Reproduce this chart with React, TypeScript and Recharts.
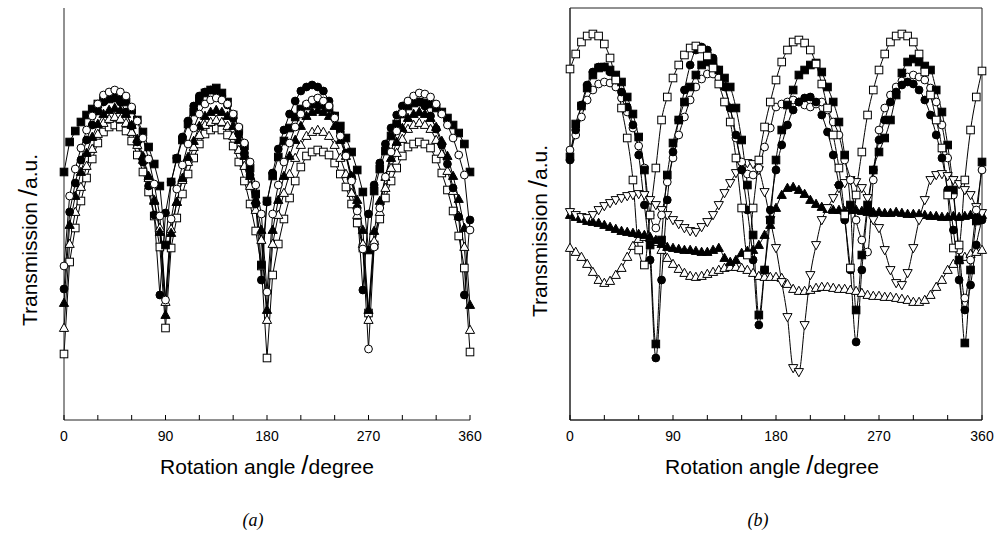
import React from 'react';
import { LineChart, Line, XAxis, YAxis, ReferenceArea } from 'recharts';

// Rotation angle (degree)
const DEG = [0,5,10,15,20,25,30,35,40,45,50,55,60,65,70,75,80,85,90,95,100,105,110,115,120,125,130,135,140,145,150,155,160,165,170,175,180,185,190,195,200,205,210,215,220,225,230,235,240,245,250,255,260,265,270,275,280,285,290,295,300,305,310,315,320,325,330,335,340,345,350,355,360];
const X_TICKS = [0,30,60,90,120,150,180,210,240,270,300,330,360];

// Panel (a) transmission (a.u.)
const A_OPEN_CIRCLE = [154,224,251,272,290,304,316,325,328,330,328,324,313,299,282,261,236,204,120,201,231,255,276,292,306,316,320,322,320,316,306,293,277,258,235,206,128,206,235,258,277,293,306,316,320,322,319,314,302,284,264,239,209,171,71,173,212,243,268,289,307,319,324,327,326,323,316,306,295,282,265,245,190];
const A_FILLED_CIRCLE = [131,208,237,260,280,295,309,318,322,322,318,308,294,278,258,234,205,125,207,238,262,283,299,314,324,328,330,328,324,315,302,286,267,245,216,140,218,247,271,290,306,319,329,333,335,333,329,319,304,288,267,243,212,130,206,235,257,276,292,305,314,318,320,318,314,304,291,275,256,232,203,125,200];
const A_FILLED_SQUARE = [248,278,289,298,305,311,316,320,321,322,321,318,310,300,288,273,256,234,175,238,261,280,296,308,319,327,330,332,327,318,305,291,274,252,226,155,219,244,263,279,292,303,311,314,316,316,315,312,304,294,282,268,250,228,170,229,251,269,284,296,306,314,317,318,317,316,312,308,302,295,287,276,248];
const A_FILLED_TRI = [117,195,224,248,267,283,296,306,310,312,310,306,295,281,264,244,219,188,105,187,218,242,263,279,294,304,308,310,308,304,294,280,264,244,220,190,110,190,220,244,264,280,294,304,308,310,308,304,294,280,264,244,220,190,110,189,219,243,262,278,292,302,306,308,306,302,293,279,264,244,221,192,115];
const A_OPEN_TRI = [92,176,208,233,254,271,286,297,301,303,301,297,288,275,260,242,220,192,118,191,218,240,258,273,285,295,298,300,298,294,284,270,254,234,210,180,100,176,205,227,246,262,275,284,288,290,288,284,275,262,246,227,205,176,100,179,208,232,252,267,281,291,295,297,295,291,280,266,249,229,204,173,90];
const A_OPEN_SQUARE = [66,158,192,219,242,261,277,288,293,295,293,289,279,265,248,228,204,173,92,172,202,226,246,262,276,286,290,292,290,285,274,258,239,216,189,154,62,145,176,201,222,239,253,264,268,270,268,265,257,246,233,216,197,172,107,175,201,222,239,252,264,273,276,278,276,272,261,247,230,209,184,152,68];

// Panel (b) transmission (a.u.)
const B_OPEN_SQUARE = [351,366,378,384,386,384,376,362,340,312,282,240,170,155,205,252,300,323,342,355,365,372,374,371,364,352,336,318,298,262,212,165,212,260,293,318,340,358,370,378,380,377,370,356,336,312,285,252,205,152,225,268,305,330,350,366,378,384,386,384,378,366,348,325,300,272,225,172,175,240,290,323,349];
const B_FILLED_SQUARE = [263,296,314,332,345,352,353,350,345,338,323,306,283,250,175,76,180,245,277,300,318,333,345,355,358,357,350,342,333,312,280,235,185,105,150,200,260,290,315,330,345,350,355,357,348,333,318,298,265,215,110,165,215,250,268,282,300,325,347,358,361,358,354,350,330,308,275,230,160,77,150,199,258];
const B_FILLED_CIRCLE = [260,290,315,335,348,353,353,348,340,328,313,295,265,215,160,62,140,220,268,300,330,355,370,373,370,362,350,333,312,285,250,210,160,95,150,210,250,275,295,310,318,322,323,318,305,288,265,235,200,150,78,150,210,250,280,300,318,328,335,338,336,330,320,305,285,262,230,190,140,110,135,175,200];
const B_OPEN_CIRCLE = [270,285,303,320,330,336,338,337,333,322,308,292,274,252,205,192,205,238,262,285,303,320,333,341,346,346,342,334,312,282,258,246,245,252,273,292,313,316,318,320,318,315,313,316,318,310,298,285,260,240,200,180,168,240,290,312,325,333,339,343,345,343,340,332,318,295,262,225,170,122,160,210,250];
const B_DOWN_TRI = [208,205,203,202,205,210,214,217,220,222,224,225,226,225,220,215,210,205,200,196,192,189,188,193,198,205,215,227,237,247,255,257,256,250,228,200,172,138,103,52,48,95,145,175,200,212,222,232,237,240,238,232,222,200,192,170,150,137,135,147,172,200,220,240,245,246,244,240,236,230,225,213,207];
const B_FILLED_TRI = [205,203,201,199,198,197,195,193,191,189,188,187,186,185,183,180,176,173,172,171,170,170,169,168,168,170,172,162,158,160,167,169,170,175,185,195,212,225,232,233,230,226,220,216,213,211,210,210,209,210,210,209,208,208,208,207,207,208,207,206,206,206,205,204,204,203,203,204,203,204,205,205,205];
const B_OPEN_TRI = [172,168,163,156,148,140,137,139,145,152,163,174,181,183,182,178,170,162,156,151,147,144,143,144,146,148,150,152,153,153,152,150,147,144,143,143,143,142,136,131,129,129,130,132,133,133,132,131,131,130,129,127,125,124,124,123,123,122,121,120,118,118,120,125,133,140,150,156,160,163,166,168,170];

type Shape = 'square' | 'circle' | 'up' | 'down';

function makeDot(shape: Shape, filled: boolean) {
  return (props: any) => {
    const { cx, cy, index } = props;
    const k = `dot-${index}`;
    if (cx == null || cy == null || isNaN(cx) || isNaN(cy)) return <g key={k} />;
    const common = { fill: filled ? '#000' : '#fff', stroke: '#000', strokeWidth: 1 };
    if (shape === 'square') return <rect key={k} x={cx - 3.8} y={cy - 3.8} width={7.6} height={7.6} {...common} />;
    if (shape === 'circle') return <circle key={k} cx={cx} cy={cy} r={3.9} {...common} />;
    if (shape === 'up')
      return <polygon key={k} points={`${cx},${cy - 4.8} ${cx - 4.6},${cy + 3.4} ${cx + 4.6},${cy + 3.4}`} {...common} />;
    return <polygon key={k} points={`${cx},${cy + 4.8} ${cx - 4.6},${cy - 3.4} ${cx + 4.6},${cy - 3.4}`} {...common} />;
  };
}

const dataA = DEG.map((deg, i) => ({
  deg,
  os: A_OPEN_SQUARE[i],
  ot: A_OPEN_TRI[i],
  ft: A_FILLED_TRI[i],
  fs: A_FILLED_SQUARE[i],
  fc: A_FILLED_CIRCLE[i],
  oc: A_OPEN_CIRCLE[i],
}));

const dataB = DEG.map((deg, i) => ({
  deg,
  ot: B_OPEN_TRI[i],
  ft: B_FILLED_TRI[i],
  dt: B_DOWN_TRI[i],
  oc: B_OPEN_CIRCLE[i],
  fc: B_FILLED_CIRCLE[i],
  fs: B_FILLED_SQUARE[i],
  os: B_OPEN_SQUARE[i],
}));

const SERIES_A: { key: string; shape: Shape; filled: boolean }[] = [
  { key: 'os', shape: 'square', filled: false },
  { key: 'ot', shape: 'up', filled: false },
  { key: 'ft', shape: 'up', filled: true },
  { key: 'fs', shape: 'square', filled: true },
  { key: 'fc', shape: 'circle', filled: true },
  { key: 'oc', shape: 'circle', filled: false },
];

const SERIES_B: { key: string; shape: Shape; filled: boolean }[] = [
  { key: 'ot', shape: 'up', filled: false },
  { key: 'ft', shape: 'up', filled: true },
  { key: 'dt', shape: 'down', filled: false },
  { key: 'oc', shape: 'circle', filled: false },
  { key: 'fc', shape: 'circle', filled: true },
  { key: 'fs', shape: 'square', filled: true },
  { key: 'os', shape: 'square', filled: false },
];

const SANS = '"Liberation Sans", Arial, Helvetica, sans-serif';

const XTick = (props: any) => {
  const { x, y, payload } = props;
  const v = payload?.value;
  return (
    <g>
      <line x1={x} x2={x} y1={y} y2={y - 5} stroke="#000" strokeWidth={1} />
      {v % 90 === 0 ? (
        <text x={x} y={y + 21} textAnchor="middle" fontSize={14} fontFamily={SANS} fill="#000">
          {v}
        </text>
      ) : null}
    </g>
  );
};

function Panel({ data, series, curve, frame }: { data: any[]; series: { key: string; shape: Shape; filled: boolean }[]; curve: 'linear' | 'monotone'; frame: boolean }) {
  return (
    <LineChart width={frame ? 496 : 500} height={470} data={data} margin={frame ? { top: 8, right: 14, bottom: 20, left: 69 } : { top: 8, right: 30, bottom: 20, left: 63 }}>
      <XAxis
        dataKey="deg"
        type="number"
        domain={[0, 360]}
        ticks={X_TICKS}
        interval={0}
        height={30}
        tickSize={0}
        tickMargin={0}
        tickLine={false}
        tick={<XTick />}
        axisLine={{ stroke: '#222', strokeWidth: 1 }}
      />
      <YAxis type="number" domain={[0, 412]} width={1} tick={false} tickLine={false} axisLine={{ stroke: '#222', strokeWidth: 1 }} />
      {frame ? <ReferenceArea x1={0} x2={360} y1={0} y2={412} fill="none" stroke="#222" strokeWidth={1} /> : null}
      {series.map((s) => (
        <Line
          key={s.key}
          dataKey={s.key}
          type={curve}
          stroke="#000"
          strokeWidth={1}
          dot={makeDot(s.shape, s.filled)}
          activeDot={false}
          isAnimationActive={false}
        />
      ))}
    </LineChart>
  );
}

export default function App() {
  return (
    <div style={{ position: 'absolute', left: 0, top: 0, width: 996, height: 537, background: '#fff', overflow: 'hidden' }}>
      <div style={{ position: 'absolute', left: 0, top: 0 }}>
        <Panel data={dataA} series={SERIES_A} curve="linear" frame={false} />
      </div>
      <div style={{ position: 'absolute', left: 500, top: 0 }}>
        <Panel data={dataB} series={SERIES_B} curve="monotone" frame={true} />
      </div>
      <svg width={996} height={537} style={{ position: 'absolute', left: 0, top: 0, pointerEvents: 'none' }}>
        <text transform="translate(37,240) rotate(-90)" textAnchor="middle" fontSize={21} fontFamily={SANS} fill="#000">
          Transmission <tspan fontSize={26}>/</tspan>a.u.
        </text>
        <text transform="translate(547,231) rotate(-90)" textAnchor="middle" fontSize={21} fontFamily={SANS} fill="#000">
          Transmission <tspan fontSize={26}>/</tspan>a.u.
        </text>
        <text x={267} y={474} textAnchor="middle" fontSize={21} fontFamily={SANS} fill="#000">
          Rotation angle <tspan fontSize={26}>/</tspan>degree
        </text>
        <text x={772} y={474} textAnchor="middle" fontSize={21} fontFamily={SANS} fill="#000">
          Rotation angle <tspan fontSize={26}>/</tspan>degree
        </text>
        <text x={253} y={526} textAnchor="middle" fontSize={18} fontStyle="italic" fontFamily='"Liberation Serif", "Times New Roman", serif' fill="#000">
          (a)
        </text>
        <text x={758} y={526} textAnchor="middle" fontSize={18} fontStyle="italic" fontFamily='"Liberation Serif", "Times New Roman", serif' fill="#000">
          (b)
        </text>
      </svg>
    </div>
  );
}
